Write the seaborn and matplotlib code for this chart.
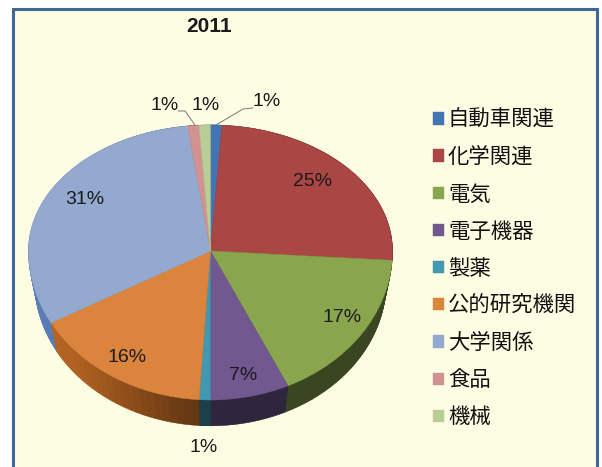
import colorsys
import numpy as np
import seaborn as sns
import matplotlib
matplotlib.use("Agg")
import matplotlib.pyplot as plt
from matplotlib.patches import Rectangle

# data
categories = ['自動車関連', '化学関連', '電気', '電子機器', '製薬', '公的研究機関', '大学関係', '食品', '機械']
values = [1, 25, 17, 7, 1, 16, 31, 1, 1]
colors = ['#4374B3', '#AA4643', '#89A54E', '#71588F', '#4198AF', '#DB843D', '#93A9CF', '#D19392', '#B9CD96']
title = '2011'

W, H = 602, 467
# pie geometry in pixels of the output image
CX, CY = 210.5, 251
RX, RY_TOP, RY_BOT = 182, 126, 149
DEPTH = 31

sns.set_theme(style='white')
plt.rcParams['font.family'] = ['Noto Sans CJK JP', 'DejaVu Sans']

fig = plt.figure(figsize=(W / 100, H / 100), dpi=100, facecolor='white')


def px(x, y):
    return x / W, 1 - y / H


# chart panel, runs off the bottom of the image
fig.patches.append(Rectangle(px(12.5, 480), 584 / W, 471 / H, transform=fig.transFigure,
                             facecolor='#FDFDE3', edgecolor='#3F6797', linewidth=2.2, zorder=0))

ax = fig.add_axes([0, 0, 1, 1], zorder=1)
ax.patch.set_visible(False)


def forward(y):
    y = np.asarray(y, dtype=float)
    return np.where(y > 0, y * RY_TOP, y * RY_BOT)


def inverse(y):
    y = np.asarray(y, dtype=float)
    return np.where(y > 0, y / RY_TOP, y / RY_BOT)


def shade(color, angle):
    # side wall gets darker from the left edge to the front
    x = np.sin(np.radians(angle))
    k = np.interp(x, [-1, -0.75, -0.1, 1], [0.78, 0.75, 0.42, 0.42])
    r, g, b = matplotlib.colors.to_rgb(color)
    h, l, s = colorsys.rgb_to_hls(r, g, b)
    return colorsys.hls_to_rgb(h, l * k, s)


def seal(wedge_list, lw):
    # same colour edge so no seams show between wedges
    for w in wedge_list:
        w.set_edgecolor(w.get_facecolor())
        w.set_linewidth(lw)


# side wall: stacked copies of the pie, each slice cut in small parts so the shade can vary
parts = 24
side_vals, side_cols = [], []
start = 0
for v, c in zip(values, colors):
    for i in range(parts):
        side_vals.append(v / parts)
        side_cols.append(shade(c, (start + (i + 0.5) * v / parts) * 3.6))
    start += v

d = DEPTH / RY_BOT
for t in np.linspace(1, 0, 32):
    side, _ = ax.pie(side_vals, colors=side_cols, startangle=90, counterclock=False,
                     center=(0, -d * t), radius=1 - 0.035 * t)
    seal(side, 0.4)

wedges, _ = ax.pie(values, colors=colors, startangle=90, counterclock=False)
seal(wedges, 0.3)

ax.set_aspect('auto')
ax.set_yscale('function', functions=(forward, inverse))
ax.set_xlim(-CX / RX, (W - CX) / RX)
ax.set_ylim(-(H - CY) / RY_BOT, CY / RY_TOP)
ax.axis('off')

# value labels, same order as the slices
label_pos = [(267, 101), (313, 181), (342, 318), (243, 376), (204, 447),
             (127, 357), (85, 199), (165, 105), (206, 105)]
for v, (x, y) in zip(values, label_pos):
    fx, fy = px(x, y)
    fig.text(fx, fy, f'{v}%', family=['Liberation Sans'], fontsize=14, color='#1a1a1a',
             ha='center', va='center', zorder=3)

fx, fy = px(209, 26)
fig.text(fx, fy, title, family=['Liberation Sans'], fontsize=15, fontweight='bold',
         color='#1a1a1a', ha='center', va='center', zorder=3)

# leader lines for the two small slices on top
for xs, ys in [((178, 185, 195), (111, 111, 125)), ((216, 243, 253), (125, 109, 108))]:
    fig.add_artist(plt.Line2D(np.array(xs) / W, 1 - np.array(ys) / H, color='#777777',
                              linewidth=0.7, zorder=3))

fig.legend(wedges, categories, loc='upper left', bbox_to_anchor=px(433, 109), frameon=False,
           fontsize=15.4, handlelength=0.5, handleheight=0.5, handletextpad=0.2,
           labelspacing=0.71, labelcolor='#111111', borderaxespad=0, borderpad=0)

fig.savefig('out.png', dpi=100, facecolor='white')
